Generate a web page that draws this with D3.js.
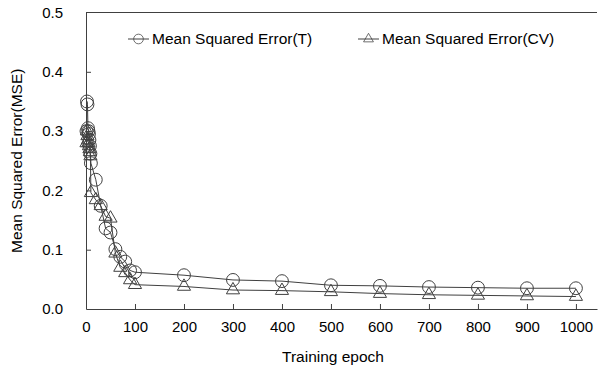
<!DOCTYPE html>
<html>
<head>
<meta charset="utf-8">
<script src="https://cdn.jsdelivr.net/npm/d3@7"></script>
<style>
  body { margin: 0; background: #fff; }
  text { font-family: "Liberation Sans", Arial, sans-serif; fill: #000; }
</style>
</head>
<body>
<div id="chart"></div>
<script>
// epochs used for both series
var epochs = [1, 2, 3, 4, 5, 6, 7, 8, 9, 10, 20, 30, 40, 50, 60, 70, 80, 90, 100,
              200, 300, 400, 500, 600, 700, 800, 900, 1000];
// training MSE (circles)
var mseT = [0.300, 0.350, 0.345, 0.305, 0.300, 0.295, 0.285, 0.275, 0.262, 0.246,
            0.218, 0.174, 0.136, 0.129, 0.101, 0.088, 0.080, 0.065, 0.062,
            0.057, 0.049, 0.047, 0.040, 0.039, 0.037, 0.036, 0.035, 0.035];
// cross validation MSE (triangles)
var mseCV = [0.280, 0.300, 0.292, 0.285, 0.280, 0.275, 0.270, 0.265, 0.258, 0.196,
             0.184, 0.174, 0.156, 0.153, 0.094, 0.070, 0.061, 0.049, 0.041,
             0.038, 0.032, 0.031, 0.029, 0.026, 0.024, 0.023, 0.022, 0.021];
var xTicks = [0, 100, 200, 300, 400, 500, 600, 700, 800, 900, 1000];
var yTicks = [0, 0.1, 0.2, 0.3, 0.4, 0.5];
var seriesNames = ["Mean Squared Error(T)", "Mean Squared Error(CV)"];

var W = 598, H = 372;
var margin = {top: 12.5, right: 1, bottom: 63, left: 86};
var w = W - margin.left - margin.right, h = H - margin.top - margin.bottom;
var ink = "#404040";
var fs = 15.5;

var svg = d3.select("#chart").append("svg")
  .attr("width", W).attr("height", H);
var g = svg.append("g")
  .attr("transform", "translate(" + margin.left + "," + margin.top + ")");

var x = d3.scaleLinear().domain([0, 1043]).range([0, w]);
var y = d3.scaleLinear().domain([0, 0.5]).range([h, 0]);

// axes, ticks point inward
var xAxis = g.append("g").attr("transform", "translate(0," + h + ")")
  .call(d3.axisBottom(x).tickValues(xTicks).tickSizeInner(-5).tickSizeOuter(0).tickPadding(12)
    .tickFormat(d3.format("d")));
var yAxis = g.append("g")
  .call(d3.axisLeft(y).tickValues(yTicks).tickSizeInner(-5).tickSizeOuter(0).tickPadding(23)
    .tickFormat(d3.format(".1f")));
[xAxis, yAxis].forEach(function(a) {
  a.select(".domain").attr("stroke", ink);
  a.selectAll(".tick line").attr("stroke", ink);
  a.selectAll(".tick text").attr("font-size", 15).attr("fill", "#000")
    .attr("font-family", "Liberation Sans, Arial, sans-serif");
});
yAxis.selectAll(".tick line").filter(function(d) { return d === 0 || d === 0.5; }).remove();
xAxis.selectAll(".tick line").filter(function(d) { return d === 0; }).remove();

// top border
g.append("line").attr("x1", 0).attr("x2", w).attr("y1", 0).attr("y2", 0)
  .attr("stroke", ink);

// axis titles
svg.append("text").attr("x", 333).attr("y", 362)
  .attr("text-anchor", "middle").attr("font-size", fs).text("Training epoch");
svg.append("text").attr("transform", "translate(22," + (margin.top + h / 2) + ") rotate(-90)")
  .attr("text-anchor", "middle").attr("font-size", fs).text("Mean Squared Error(MSE)");

var line = d3.line().x(function(d) { return x(d[0]); }).y(function(d) { return y(d[1]); });
var circle = d3.symbol().type(d3.symbolCircle).size(130);
var tri = d3.symbol().type(d3.symbolTriangle).size(75);

function drawSeries(vals, sym) {
  var pts = epochs.map(function(e, i) { return [e, vals[i]]; });
  g.append("path").datum(pts).attr("d", line)
    .attr("fill", "none").attr("stroke", ink).attr("stroke-width", 1);
  g.selectAll(null).data(pts).enter().append("path")
    .attr("d", sym)
    .attr("transform", function(d) { return "translate(" + x(d[0]) + "," + y(d[1]) + ")"; })
    .attr("fill", "none").attr("stroke", ink).attr("stroke-width", 1);
}
drawSeries(mseT, circle);
drawSeries(mseCV, tri);

// legend
var legend = [{x: 128, sym: circle}, {x: 358, sym: tri}];
legend.forEach(function(l, i) {
  var lg = svg.append("g").attr("transform", "translate(" + l.x + ",39)");
  lg.append("line").attr("x1", 0).attr("x2", 21).attr("stroke", ink);
  lg.append("path").attr("d", l.sym).attr("transform", "translate(10.5,0) scale(0.75)")
    .attr("fill", "none").attr("stroke", ink);
  lg.append("text").attr("x", 24).attr("dy", "0.35em").attr("font-size", fs).text(seriesNames[i]);
});
</script>
</body>
</html>
